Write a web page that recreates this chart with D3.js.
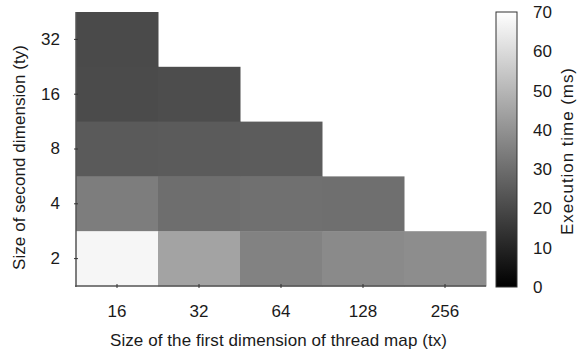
<!DOCTYPE html>
<html><head><meta charset="utf-8">
<script src="https://cdn.jsdelivr.net/npm/d3@7"></script>
<style>body{margin:0;background:#fff;} text{font-family:"Liberation Sans",Arial,sans-serif;fill:#1a1a1a;}</style>
</head><body><svg id="c" width="578" height="356"></svg>
<script>
const txCats = ["16","32","64","128","256"];
const tyCats = ["2","4","8","16","32"];
// execution time (ms) per cell
const cellTx = ["16","16","32","16","32","64","16","32","64","128","16","32","64","128","256"];
const cellTy = ["32","16","16","8","8","8","4","4","4","4","2","2","2","2","2"];
const cellVal = [20.3,20.6,21.2,24.7,25.0,25.3,34.3,30.2,30.7,30.5,67.5,44.7,35.7,37.9,38.7];
const cbTicks = [0,10,20,30,40,50,60,70];

const svg = d3.select("#c");
const L=76, R=486, T=12, B=286;
const x = d3.scaleBand().domain(txCats).range([L,R]);
const y = d3.scaleBand().domain(tyCats).range([B,T]);
const gray = d3.scaleLinear().domain([0,70]).range([0,255]).clamp(true);
const col = v => { const g = Math.round(gray(v)); return d3.rgb(g,g,g).formatHex(); };

svg.append("g").selectAll("rect").data(cellVal.map((v,i)=>({tx:cellTx[i],ty:cellTy[i],v})))
 .join("rect").attr("x",d=>x(d.tx)).attr("y",d=>y(d.ty))
 .attr("width",x.bandwidth()+0.5).attr("height",y.bandwidth()+0.5)
 .attr("fill",d=>col(d.v));

// axes
const ax = svg.append("g").attr("transform",`translate(0,${B})`)
 .call(d3.axisBottom(x).tickSize(2).tickSizeOuter(0).tickPadding(17));
ax.select(".domain").attr("stroke","#555").attr("stroke-width",1.5).attr("d",`M${L-1},0H${R}`);
ax.selectAll(".tick line").attr("stroke","#333").attr("y1",-2).attr("y2",2);
ax.selectAll("text").attr("font-size",17);

const ay = svg.append("g").attr("transform",`translate(${L},0)`)
 .call(d3.axisLeft(y).tickSize(2).tickSizeOuter(0).tickPadding(14));
ay.select(".domain").attr("stroke","#555").attr("stroke-width",1.5).attr("d",`M0,${T}V${B+1}`);
ay.selectAll(".tick line").attr("stroke","#333").attr("x1",-2).attr("x2",2);
ay.selectAll("text").attr("font-size",17);

svg.append("text").attr("x",278.5).attr("y",346).attr("text-anchor","middle").attr("font-size",17)
 .attr("textLength",337).attr("lengthAdjust","spacing")
 .text("Size of the first dimension of thread map (tx)");
svg.append("text").attr("transform","translate(25,157.5) rotate(-90)").attr("text-anchor","middle").attr("font-size",17)
 .attr("textLength",225).attr("lengthAdjust","spacing")
 .text("Size of second dimension (ty)");

// colorbar
const cbX=496, cbW=21;
const cb = d3.scaleLinear().domain([0,70]).range([B+1,T]);
const defs = svg.append("defs");
const gr = defs.append("linearGradient").attr("id","g").attr("x1",0).attr("y1",1).attr("x2",0).attr("y2",0);
gr.append("stop").attr("offset","0%").attr("stop-color",col(0));
gr.append("stop").attr("offset","100%").attr("stop-color",col(70));
svg.append("rect").attr("x",cbX).attr("y",cb(70)).attr("width",cbW).attr("height",cb(0)-cb(70))
 .attr("fill","url(#g)").attr("stroke","#333").attr("stroke-width",1);
const ac = svg.append("g").attr("transform",`translate(${cbX+cbW},0)`)
 .call(d3.axisRight(cb).tickValues(cbTicks).tickSize(0).tickPadding(16));
ac.select(".domain").remove();
ac.selectAll("text").attr("font-size",17);
svg.append("text").attr("transform","translate(573,151.5) rotate(-90)").attr("text-anchor","middle").attr("font-size",17)
 .attr("textLength",167).attr("lengthAdjust","spacing")
 .text("Execution time (ms)");
</script></body></html>
